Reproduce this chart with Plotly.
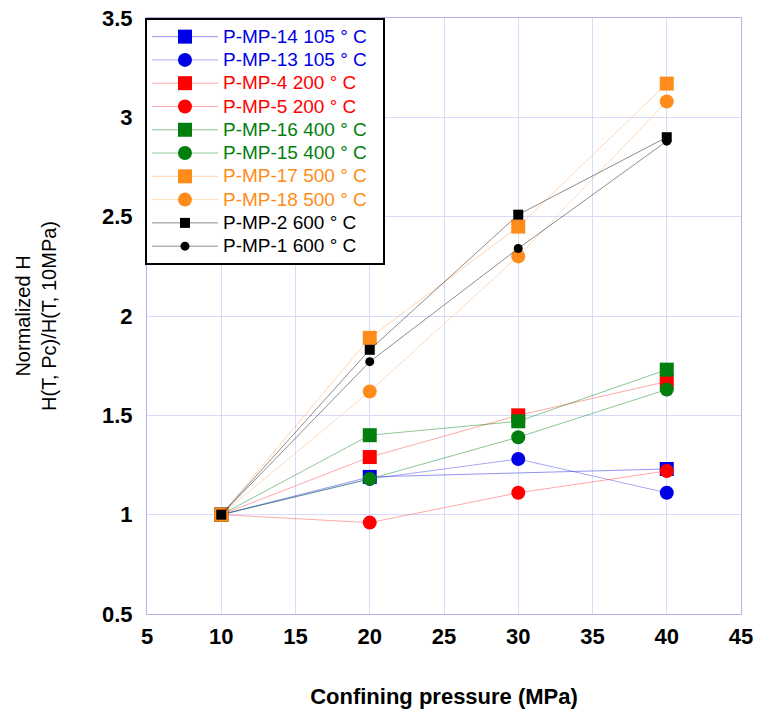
import plotly.graph_objects as go

pressure = [10, 20, 30, 40]

names = ["P-MP-14 105 ° C", "P-MP-13 105 ° C", "P-MP-4 200 ° C", "P-MP-5 200 ° C",
         "P-MP-16 400 ° C", "P-MP-15 400 ° C", "P-MP-17 500 ° C", "P-MP-18 500 ° C",
         "P-MP-2 600 ° C", "P-MP-1 600 ° C"]

p_mp_14 = [1.0, 1.19, None, 1.23]
p_mp_13 = [1.0, 1.18, 1.28, 1.11]
p_mp_4 = [1.0, 1.29, 1.50, 1.67]
p_mp_5 = [1.0, 0.96, 1.11, 1.22]
p_mp_16 = [1.0, 1.40, 1.47, 1.73]
p_mp_15 = [1.0, 1.18, 1.39, 1.63]
p_mp_17 = [1.0, 1.89, 2.45, 3.17]
p_mp_18 = [1.0, 1.62, 2.30, 3.08]
p_mp_2 = [1.0, 1.83, 2.51, 2.90]
p_mp_1 = [1.0, 1.77, 2.34, 2.88]

series = [p_mp_14, p_mp_13, p_mp_4, p_mp_5, p_mp_16, p_mp_15, p_mp_17, p_mp_18, p_mp_2, p_mp_1]

marker_colors = ["#0000e6", "#0000e6", "#ff0000", "#ff0000", "#007f0e", "#007f0e",
                 "#ff8c1a", "#ff8c1a", "#000000", "#000000"]
line_colors = ["rgba(60,60,230,0.55)", "rgba(60,60,230,0.45)", "rgba(255,60,60,0.45)",
               "rgba(255,60,60,0.45)", "rgba(0,128,20,0.45)", "rgba(0,128,20,0.45)",
               "rgba(255,150,60,0.4)", "rgba(255,150,60,0.35)", "rgba(0,0,0,0.45)",
               "rgba(0,0,0,0.45)"]
symbols = ["square", "circle"] * 5
sizes = [14, 14, 14, 14, 14, 14, 14, 14, 10, 9]

fig = go.Figure()
for nm, ys, mc, lc, sym, sz in zip(names, series, marker_colors, line_colors, symbols, sizes):
    fig.add_trace(go.Scatter(
        x=pressure, y=ys, mode="lines+markers", connectgaps=True,
        name=f"<span style='color:{mc};font-size:19px'>{nm}\u00a0\u00a0</span>",
        line=dict(color=lc, width=1),
        marker=dict(symbol=sym, size=sz, color=mc, line=dict(width=0)),
    ))

grid = "#d9d9fb"
axline = "#b4b4f0"
fig.update_layout(
    width=758, height=722,
    margin=dict(l=147, r=17, t=18, b=108),
    paper_bgcolor="white", plot_bgcolor="white",
    font=dict(family="Arial, Liberation Sans, sans-serif", color="black"),
    showlegend=True,
    legend=dict(
        x=-0.0034, y=1.0, xanchor="left", yanchor="top",
        bordercolor="black", borderwidth=2, bgcolor="white",
        font=dict(size=15.6), itemwidth=66, tracegroupgap=0,
    ),
    xaxis=dict(
        range=[5, 45], dtick=5, tick0=5, automargin=False,
        showgrid=True, gridcolor=grid, gridwidth=1,
        showline=True, linecolor=axline, linewidth=1, mirror=True,
        zeroline=False,
        ticks="outside", ticklen=3, tickcolor="rgba(0,0,0,0)",
        tickfont=dict(size=22, weight="bold"),
        title=dict(text="<b>Confining pressure (MPa)</b>", font=dict(size=22), standoff=40),
    ),
    yaxis=dict(
        range=[0.5, 3.5], dtick=0.5, tick0=0.5, automargin=False,
        showgrid=True, gridcolor=grid, gridwidth=1,
        showline=True, linecolor=axline, linewidth=1, mirror=True,
        zeroline=False,
        ticks="outside", ticklen=9, tickcolor="rgba(0,0,0,0)",
        tickfont=dict(size=22, weight="bold"),
        title=dict(text="Normalized H<br>H(T, Pc)/H(T, 10MPa)", font=dict(size=20), standoff=40),
    ),
)

fig.write_html("out.html", config={"displayModeBar": False},
               post_script="document.body.style.margin='0';")
